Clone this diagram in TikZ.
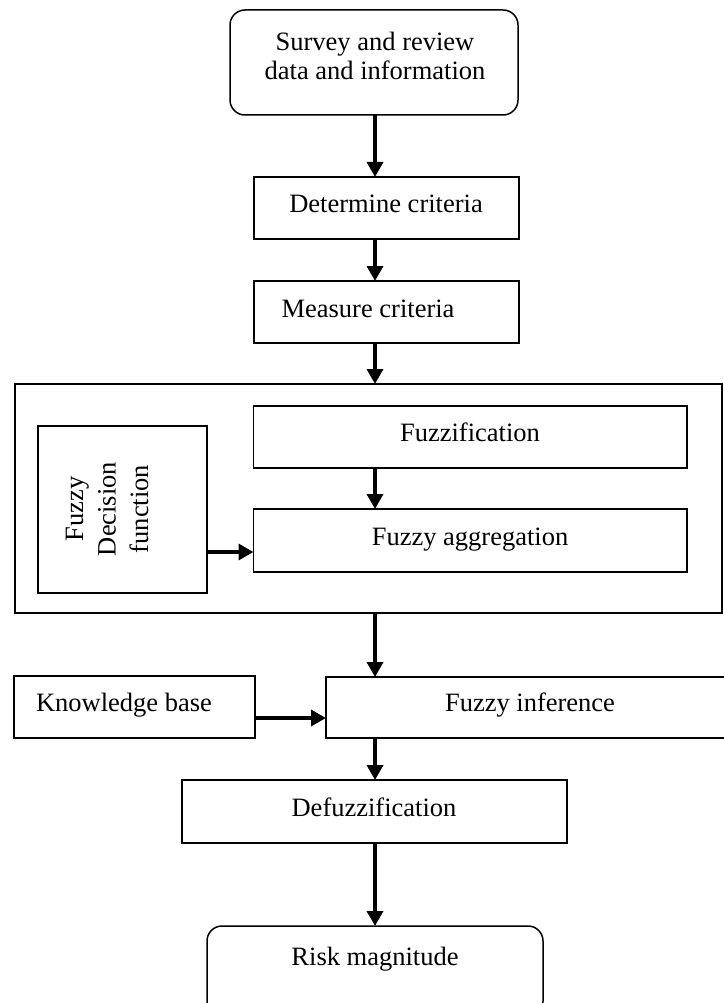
\documentclass[tikz,border=0pt]{standalone}
\usepackage{fontspec}
\setmainfont{Liberation Serif}
\usetikzlibrary{arrows.meta}
\tikzset{
  box/.style={draw, line width=1.5pt, inner sep=0pt, outer sep=0pt},
  rbox/.style={box, rounded corners=15pt},
  bigbox/.style={draw, line width=2pt, inner sep=0pt, outer sep=0pt},
  lbl/.style={font=\fontsize{26.5}{29}\selectfont, inner sep=0pt, outer sep=0pt, anchor=base},
  flow/.style={line width=3.5pt, -{Triangle[width=16pt,length=15pt]}},
}
\begin{document}
\begin{tikzpicture}[x=1pt, y=-1pt]
\useasboundingbox[fill=white] (0,0) rectangle (723,1003);
\coordinate (spine) at (375,0);
\coordinate (dy) at (0,552);
\coordinate (ky) at (0,718);

% boxes
\node[rbox, minimum width=288pt, minimum height=105pt] (survey) at (374,62.5) {};
\node[box, minimum width=265pt, minimum height=62pt] (determine) at (386.5,208) {};
\node[box, minimum width=265pt, minimum height=62pt] (measure) at (386.5,312) {};
\node[bigbox, minimum width=707pt, minimum height=229pt] (outer) at (368.5,498.5) {};
\node[box, minimum width=433.5pt, minimum height=62pt] (fuzz) at (470.25,437) {};
\node[box, minimum width=433.5pt, minimum height=63pt] (agg) at (470.25,540.5) {};
\node[box, minimum width=169pt, minimum height=167pt] (decision) at (122.5,509.5) {};
\node[box, minimum width=241pt, minimum height=62pt] (kb) at (134.5,707) {};
\node[box, minimum width=399pt, minimum height=61pt] (infer) at (525.5,707.5) {};
\node[box, minimum width=385pt, minimum height=63pt] (defuzz) at (374.5,811.5) {};
\node[rbox, minimum width=336pt, minimum height=90pt] (risk) at (375,971) {};

% texts
\node[lbl, align=center] (tsurvey) at (375,80) {Survey and review\\data and information};
\node[lbl] (tdetermine) at (386,212) {Determine criteria};
\node[lbl] (tmeasure) at (368,317) {Measure criteria};
\node[lbl] (tfuzz) at (470,441) {Fuzzification};
\node[lbl] (tagg) at (470,545) {Fuzzy aggregation};
\node[lbl, anchor=center, rotate=90, align=center, font=\fontsize{26.5}{32.5}\selectfont] (tdecision) at (107,509) {Fuzzy\\Decision\\function};
\node[lbl] (tkb) at (124,711) {Knowledge base};
\node[lbl] (tinfer) at (530,711) {Fuzzy inference};
\node[lbl] (tdefuzz) at (374,816) {Defuzzification};
\node[lbl] (trisk) at (375,965) {Risk magnitude};

% connectors
\draw[flow] (survey.south -| spine) -- (determine.north -| spine);
\draw[flow] (determine.south -| spine) -- (measure.north -| spine);
\draw[flow] (measure.south -| spine) -- (outer.north -| spine);
\draw[flow] (fuzz.south -| spine) -- (agg.north -| spine);
\draw[flow] (decision.east |- dy) -- (agg.west |- dy);
\draw[flow] (outer.south -| spine) -- (infer.north -| spine);
\draw[flow] (kb.east |- ky) -- (infer.west |- ky);
\draw[flow] (infer.south -| spine) -- (defuzz.north -| spine);
\draw[flow] (defuzz.south -| spine) -- (risk.north -| spine);
\end{tikzpicture}
\end{document}
